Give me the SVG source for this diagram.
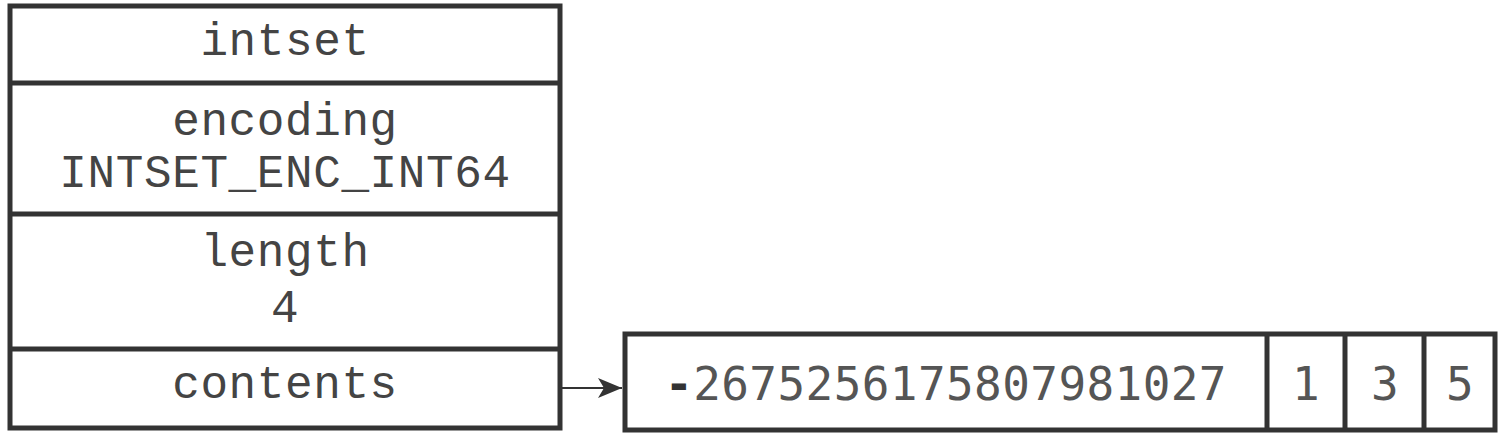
<svg xmlns="http://www.w3.org/2000/svg" width="1507" height="435" viewBox="0 0 1507 435">
  <style>
    .box { fill: #ffffff; stroke: #333333; stroke-width: 5; }
    .div { stroke: #333333; stroke-width: 5; }
    .t { font-family: "Liberation Mono", "Courier New", monospace; font-size: 46px; letter-spacing: 0.6px; fill: #444444; text-anchor: middle; }
    .n { font-family: "DejaVu Sans Mono", "Liberation Mono", monospace; font-size: 46px; letter-spacing: 0.4px; fill: #555555; text-anchor: middle; }
    .conn { stroke: #333333; stroke-width: 1.8; fill: none; }
  </style>
  <defs>
    <marker id="arrow" markerUnits="userSpaceOnUse" markerWidth="26" markerHeight="24" refX="24" refY="12" orient="auto">
      <path d="M0,2 L24,12 L0,22 L6,12 Z" fill="#333333"/>
    </marker>
  </defs>
  <rect width="1507" height="435" fill="#ffffff"/>
  <g id="intset">
    <rect class="box" x="10" y="6" width="550" height="422"/>
    <line class="div" x1="10" y1="83" x2="560" y2="83"/>
    <line class="div" x1="10" y1="214" x2="560" y2="214"/>
    <line class="div" x1="10" y1="349" x2="560" y2="349"/>
    <text class="t" x="285" y="55">intset</text>
    <text class="t" x="285" y="135">encoding</text>
    <text class="t" x="285" y="187">INTSET_ENC_INT64</text>
    <text class="t" x="285" y="266">length</text>
    <text class="t" x="285" y="322">4</text>
    <text class="t" x="285" y="398">contents</text>
  </g>
  <g id="contents-array">
    <rect class="box" x="625" y="334" width="870" height="96"/>
    <line class="div" x1="1267" y1="334" x2="1267" y2="430"/>
    <line class="div" x1="1345" y1="334" x2="1345" y2="430"/>
    <line class="div" x1="1424" y1="334" x2="1424" y2="430"/>
    <text class="n" x="946" y="400"><tspan font-weight="bold" fill="#333333">-</tspan>2675256175807981027</text>
    <text class="n" x="1306" y="400">1</text>
    <text class="n" x="1385" y="400">3</text>
    <text class="n" x="1460" y="400">5</text>
  </g>
  <g id="connectors">
    <line class="conn" x1="562" y1="388" x2="622" y2="388" marker-end="url(#arrow)"/>
  </g>
</svg>
